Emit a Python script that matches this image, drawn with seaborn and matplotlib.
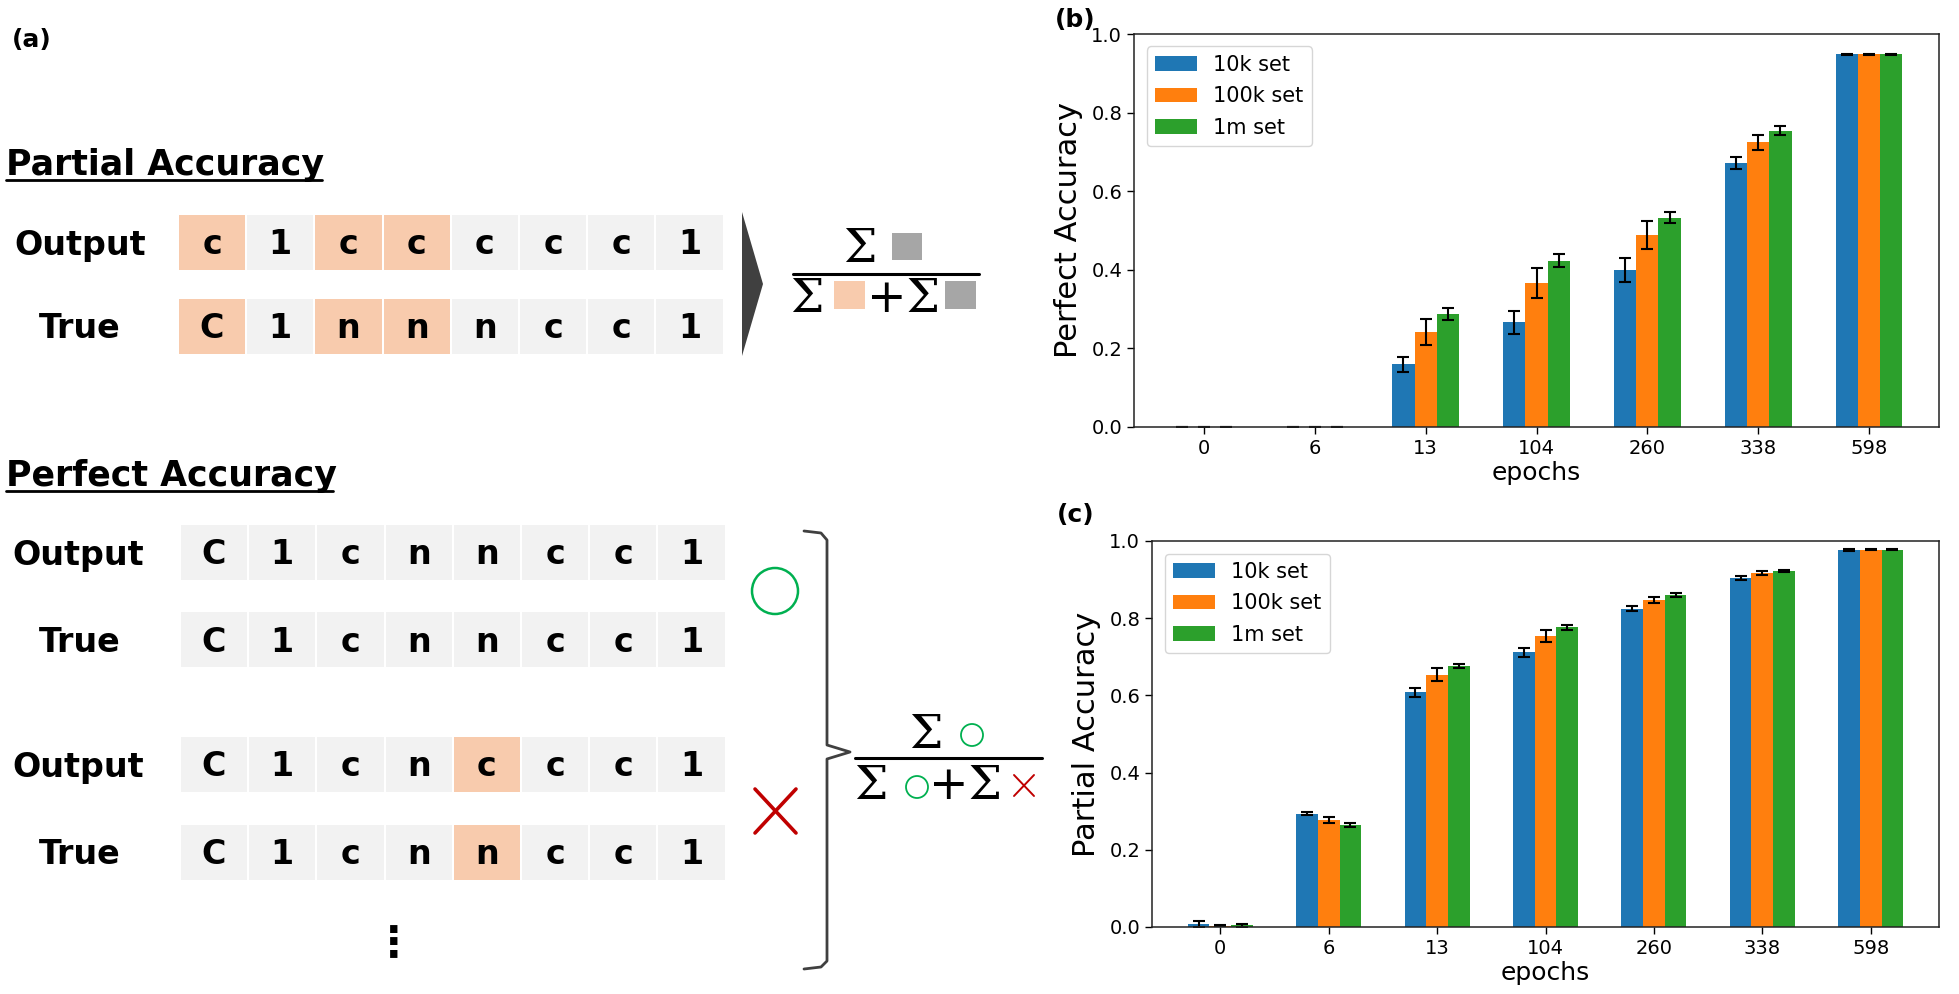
import matplotlib
matplotlib.use("Agg")
import matplotlib.pyplot as plt
from matplotlib.patches import Rectangle, Circle, Polygon
import pandas as pd
import seaborn as sns

# ---- data ----
epochs = ["0", "6", "13", "104", "260", "338", "598"]
set_names = ["10k set", "100k set", "1m set"]
set_colors = ["#1f77b4", "#ff7f0e", "#2ca02c"]

perfect_10k = [0.0, 0.0, 0.160, 0.266, 0.399, 0.672, 0.948]
perfect_100k = [0.0, 0.0, 0.242, 0.367, 0.488, 0.724, 0.948]
perfect_1m = [0.0, 0.0, 0.288, 0.423, 0.533, 0.754, 0.948]
perfect_10k_err = [0.0, 0.0, 0.019, 0.030, 0.031, 0.015, 0.002]
perfect_100k_err = [0.0, 0.0, 0.034, 0.038, 0.035, 0.020, 0.001]
perfect_1m_err = [0.0, 0.0, 0.016, 0.016, 0.014, 0.011, 0.001]

partial_10k = [0.008, 0.293, 0.608, 0.712, 0.825, 0.904, 0.977]
partial_100k = [0.003, 0.277, 0.654, 0.754, 0.847, 0.917, 0.977]
partial_1m = [0.004, 0.264, 0.676, 0.776, 0.859, 0.922, 0.977]
partial_10k_err = [0.008, 0.004, 0.012, 0.012, 0.007, 0.005, 0.002]
partial_100k_err = [0.001, 0.008, 0.016, 0.015, 0.008, 0.005, 0.001]
partial_1m_err = [0.005, 0.005, 0.006, 0.006, 0.005, 0.002, 0.001]

# token sequences for panel (a)
pa_output = ["c", "1", "c", "c", "c", "c", "c", "1"]
pa_true = ["C", "1", "n", "n", "n", "c", "c", "1"]
pa_mismatch = [0, 2, 3]
pf_output_ok = ["C", "1", "c", "n", "n", "c", "c", "1"]
pf_true_ok = ["C", "1", "c", "n", "n", "c", "c", "1"]
pf_output_ng = ["C", "1", "c", "n", "c", "c", "c", "1"]
pf_true_ng = ["C", "1", "c", "n", "n", "c", "c", "1"]
pf_mismatch = [4]

PEACH = "#F8CBAD"
CELL = "#F2F2F2"
GREY = "#A6A6A6"
DARK = "#404040"
GREEN = "#00B050"
RED = "#C00000"

W, H = 1959, 994
sns.set_style("ticks", {"text.color": "black", "axes.labelcolor": "black",
                        "xtick.color": "black", "ytick.color": "black",
                        "axes.edgecolor": "#222222"})
plt.rcParams["font.family"] = ["DejaVu Sans"]

fig = plt.figure(figsize=(W / 100, H / 100), dpi=100)

# ---- panel (a): schematic drawn in pixel coordinates ----
ax0 = fig.add_axes([0, 0, 1, 1])
ax0.set_xlim(0, W)
ax0.set_ylim(H, 0)
ax0.axis("off")


def draw_row(tokens, mismatch, x0, top, label, label_x):
    pitch, h = 68.2, 55
    for i, t in enumerate(tokens):
        fc = PEACH if i in mismatch else CELL
        ax0.add_patch(Rectangle((x0 + i * pitch, top), pitch - 2, h, fc=fc, ec="none"))
        ax0.text(x0 + i * pitch + (pitch - 2) / 2, top + h / 2 + 12, t, ha="center",
                 va="baseline", fontsize=24, fontweight="bold", color="black")
    ax0.text(label_x, top + h / 2 + 12, label, ha="center", va="baseline",
             fontsize=24, fontweight="bold", color="black")


def title(x, y, s, ul_end):
    ax0.text(x, y, s, ha="left", va="baseline", fontsize=25, fontweight="bold", color="black")
    ax0.plot([x, ul_end], [y + 5, y + 5], color="black", lw=2)


def sigma(x, y, s="Σ", size=34):
    ax0.text(x, y, s, ha="center", va="center", fontsize=size, family="DejaVu Serif",
             color="black")


ax0.text(12, 40, "(a)", ha="left", va="center", fontsize=18, fontweight="bold")
ax0.text(1055, 20, "(b)", ha="left", va="center", fontsize=18, fontweight="bold")
ax0.text(1057, 515, "(c)", ha="left", va="center", fontsize=18, fontweight="bold")

# partial accuracy scheme
title(6, 175, "Partial Accuracy", 322)
draw_row(pa_output, pa_mismatch, 179, 215, "Output", 80)
draw_row(pa_true, pa_mismatch, 179, 299, "True", 80)
ax0.add_patch(Polygon([(742, 212), (763, 284), (742, 356)], closed=True, fc=DARK, ec="none"))
ax0.plot([793, 979], [274, 274], color="black", lw=2.2)
sigma(860, 249)
ax0.add_patch(Rectangle((892, 233), 30, 27, fc=GREY, ec="none"))
sigma(807, 299)
ax0.add_patch(Rectangle((834, 281), 31, 28, fc=PEACH, ec="none"))
sigma(903, 299, "+Σ")
ax0.add_patch(Rectangle((945, 281), 31, 28, fc=GREY, ec="none"))

# perfect accuracy scheme
title(6, 486, "Perfect Accuracy", 333)
draw_row(pf_output_ok, [], 181, 525, "Output", 78)
draw_row(pf_true_ok, [], 181, 612, "True", 80)
draw_row(pf_output_ng, pf_mismatch, 181, 737, "Output", 78)
draw_row(pf_true_ng, pf_mismatch, 181, 825, "True", 80)
ax0.text(394, 944, "⋮", ha="center", va="center", fontsize=30, fontweight="bold")

ax0.add_patch(Circle((775, 591), 23, fc="none", ec=GREEN, lw=1.8))
ax0.plot([755, 796], [789, 833], color=RED, lw=2.6)
ax0.plot([796, 755], [789, 833], color=RED, lw=2.6)

brace_x = [804, 821, 827, 827, 850, 827, 827, 821, 804]
brace_y = [531, 533, 540, 745, 752, 759, 961, 967, 969]
ax0.plot(brace_x, brace_y, color=DARK, lw=2)

ax0.plot([855, 1042], [758, 758], color="black", lw=2.2)
sigma(926, 735)
ax0.add_patch(Circle((972, 735), 11, fc="none", ec=GREEN, lw=1.3))
sigma(871, 786)
ax0.add_patch(Circle((917, 787), 11, fc="none", ec=GREEN, lw=1.3))
sigma(966, 786, "+Σ")
ax0.plot([1014, 1034], [775, 796], color=RED, lw=1.4)
ax0.plot([1034, 1014], [775, 796], color=RED, lw=1.4)


# ---- panels (b) and (c): bar charts ----
def bar_panel(rect, vals, errs, ylabel):
    ax = fig.add_axes(rect)
    df = pd.DataFrame({
        "epoch": epochs * len(set_names),
        "acc": sum(vals, []),
        "set": [s for s in set_names for _ in epochs],
    })
    sns.barplot(data=df, x="epoch", y="acc", hue="set", order=epochs,
                hue_order=set_names, palette=set_colors, saturation=1,
                width=0.6, errorbar=None, linewidth=0, ax=ax)
    bars = list(ax.containers)[:len(set_names)]
    for cont, e in zip(bars, errs):
        xs = [p.get_x() + p.get_width() / 2 for p in cont]
        ys = [p.get_height() for p in cont]
        ax.errorbar(xs, ys, yerr=e, fmt="none", ecolor="black", elinewidth=1.5,
                    capsize=4.5, capthick=1.5)
    ax.set_xlim(-0.63, 6.63)
    ax.set_ylim(0, 1.0)
    ax.set_yticks([0.0, 0.2, 0.4, 0.6, 0.8, 1.0])
    ax.set_xlabel("epochs", fontsize=18, labelpad=2)
    ax.set_ylabel(ylabel, fontsize=22, labelpad=6)
    ax.tick_params(labelsize=14, length=5, width=1)
    for sp in ax.spines.values():
        sp.set_linewidth(1.1)
    sns.move_legend(ax, "upper left", title=None, fontsize=15, frameon=True,
                    labelspacing=0.55, handlelength=2.0, borderaxespad=0.6)
    return ax


bar_panel([1134 / W, 1 - 427 / H, 805 / W, 393 / H],
          [perfect_10k, perfect_100k, perfect_1m],
          [perfect_10k_err, perfect_100k_err, perfect_1m_err],
          "Perfect Accuracy")
bar_panel([1152 / W, 1 - 927 / H, 787 / W, 386 / H],
          [partial_10k, partial_100k, partial_1m],
          [partial_10k_err, partial_100k_err, partial_1m_err],
          "Partial Accuracy")

fig.savefig("out.png", dpi=100)
